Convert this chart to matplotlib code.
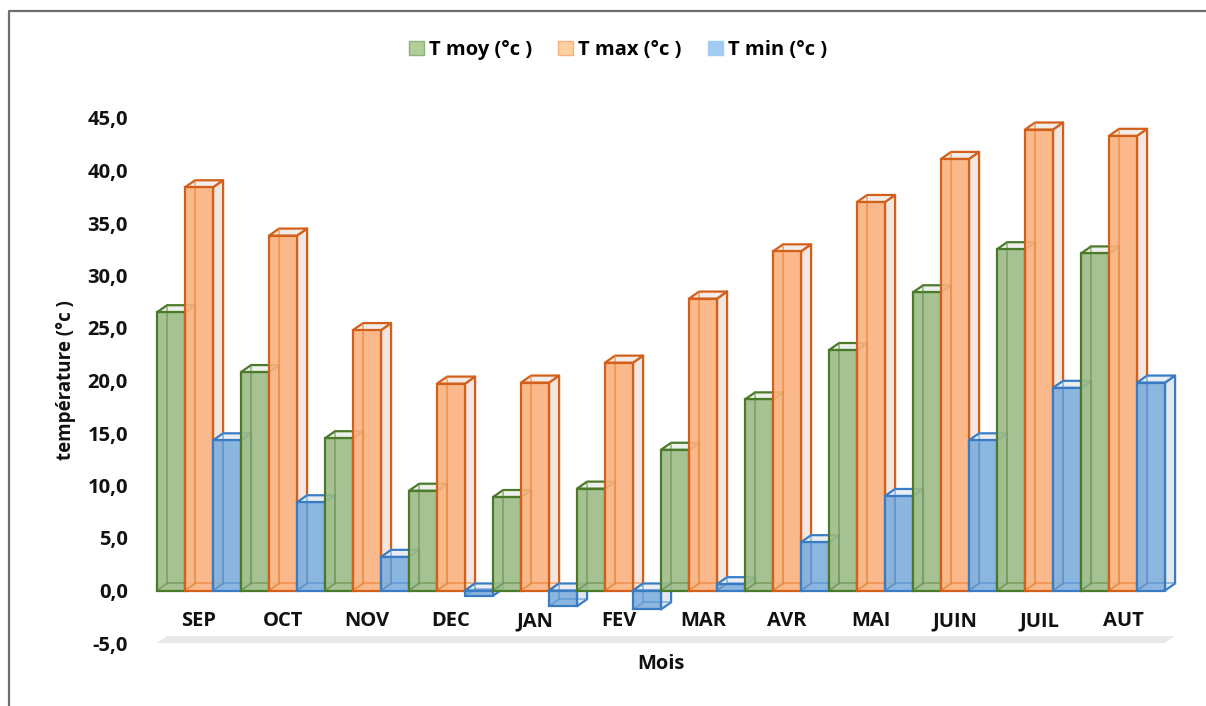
import matplotlib
matplotlib.use("Agg")
import matplotlib.pyplot as plt
from matplotlib.patches import Polygon, Patch
from matplotlib.lines import Line2D

months = ["SEP", "OCT", "NOV", "DEC", "JAN", "FEV", "MAR", "AVR", "MAI", "JUIN", "JUIL", "AUT"]
t_moy = [26.5, 20.8, 14.5, 9.5, 8.9, 9.7, 13.4, 18.2, 22.9, 28.4, 32.5, 32.1]
t_max = [38.4, 33.8, 24.8, 19.7, 19.8, 21.7, 27.8, 32.3, 37.0, 41.1, 43.9, 43.3]
t_min = [14.3, 8.4, 3.2, -0.5, -1.5, -1.8, 0.6, 4.6, 9.0, 14.3, 19.3, 19.8]
series_names = ["T moy (°c )", "T max (°c )", "T min (°c )"]
yticks = [-5, 0, 5, 10, 15, 20, 25, 30, 35, 40, 45]

FONT = "Open Sans"
FS = 14.5
TXT = "#111111"
W, H = 1206, 706
fig = plt.figure(figsize=(W / 100, H / 100), dpi=100)
ax = fig.add_axes([157 / W, (H - 643) / H, 1008 / W, 525 / H])
ax.set_xlim(-0.5, 11.5)
ax.set_ylim(-5, 45)
for s in ax.spines.values():
    s.set_visible(False)

# styles: face, edge, inner edge, side, top
styles = [
    dict(face="#9cbb86", edge="#4a7a2a", inner="#5f8c40", side="#eef0ec", top="#eef0ec"),
    dict(face="#fbb27e", edge="#d2601a", inner="#ec7a2a", side="#f3e6e1", top="#f3ece8"),
    dict(face="#7eaedc", edge="#3a7cc4", inner="#4a8ad0", side="#e3e8ef", top="#eaeef3"),
]

bw = 1 / 3
dx = 0.12   # depth offset (category units)
dy = 0.67   # depth offset (data units)

# floor
floor = Polygon([(-0.5, -5), (11.5, -5), (11.5 + dx, -5 + dy), (-0.5 + dx, -5 + dy)],
                closed=True, facecolor="#e9e9e9", edgecolor="none", zorder=0, clip_on=False)
ax.add_patch(floor)

z = 1
for i in range(len(months)):
    for k, vals in enumerate([t_moy, t_max, t_min]):
        st = styles[k]
        v = vals[i]
        x0 = i - 0.5 + k * bw
        b, t = min(0, v), max(0, v)
        # side face
        ax.add_patch(Polygon([(x0 + bw, b), (x0 + bw + dx, b + dy), (x0 + bw + dx, t + dy), (x0 + bw, t)],
                             closed=True, facecolor=st["side"], edgecolor=st["edge"], lw=1.6,
                             zorder=z + 0.1, clip_on=False, joinstyle="round"))
        # top face
        ax.add_patch(Polygon([(x0, t), (x0 + dx, t + dy), (x0 + bw + dx, t + dy), (x0 + bw, t)],
                             closed=True, facecolor=st["top"], edgecolor=st["edge"], lw=1.6,
                             zorder=z + 0.2, clip_on=False, joinstyle="round"))
        # front face
        ax.bar(x0, v, width=bw, bottom=0, align="edge", facecolor=st["face"], alpha=0.9,
               edgecolor="none", zorder=z + 0.3, clip_on=False)
        # hidden back edges seen through the front
        ax.plot([x0 + dx, x0 + dx, x0 + bw + dx], [t + dy, b + dy, b + dy],
                color=st["inner"], lw=1.3, alpha=0.55, zorder=z + 0.35, clip_on=False)
        ax.plot([x0, x0 + dx], [b, b + dy], color=st["inner"], lw=1.3, alpha=0.55,
                zorder=z + 0.35, clip_on=False)
        ax.bar(x0, v, width=bw, bottom=0, align="edge", facecolor="none",
               edgecolor=st["edge"], lw=1.6, zorder=z + 0.4, clip_on=False)
        z += 1

# x category labels (above the floor)
for i, m in enumerate(months):
    ax.text(i, -2.95, m, ha="center", va="center", fontsize=FS, fontweight="bold",
            family=FONT, color=TXT)
ax.set_xticks([])

ax.set_yticks(yticks)
ax.set_yticklabels([f"{v:.1f}".replace(".", ",") for v in yticks],
                   fontsize=FS, fontweight="bold", family=FONT, color=TXT)
ax.tick_params(axis="y", length=0, pad=21)
ax.set_ylabel("température (°c )", fontsize=13.5, fontweight="bold", family=FONT,
              color=TXT, labelpad=8)
ax.set_xlabel("Mois", fontsize=FS, fontweight="bold", family=FONT, color=TXT, labelpad=8)

# legend
leg_colors = [("#b0cf98", "#8fb07a"), ("#fdd0a0", "#f4b183"), ("#a0cbf5", "#a0cbf5")]
handles = [Patch(facecolor=f, edgecolor=e, lw=1.0, label=n) for (f, e), n in zip(leg_colors, series_names)]
fig.legend(handles=handles, loc="center", bbox_to_anchor=(618 / W, 1 - 50 / H), ncol=3,
           frameon=False, prop=dict(family=FONT, weight="bold", size=FS),
           handlelength=0.75, handleheight=0.75, handletextpad=0.25, columnspacing=1.3)

# chart border (left and top)
fig.add_artist(Line2D([9 / W, 9 / W, 1.0], [0.0, 1 - 11 / H, 1 - 11 / H],
                      transform=fig.transFigure, color="#6e6e6e", lw=1.6))

fig.savefig("out.png", dpi=100)
